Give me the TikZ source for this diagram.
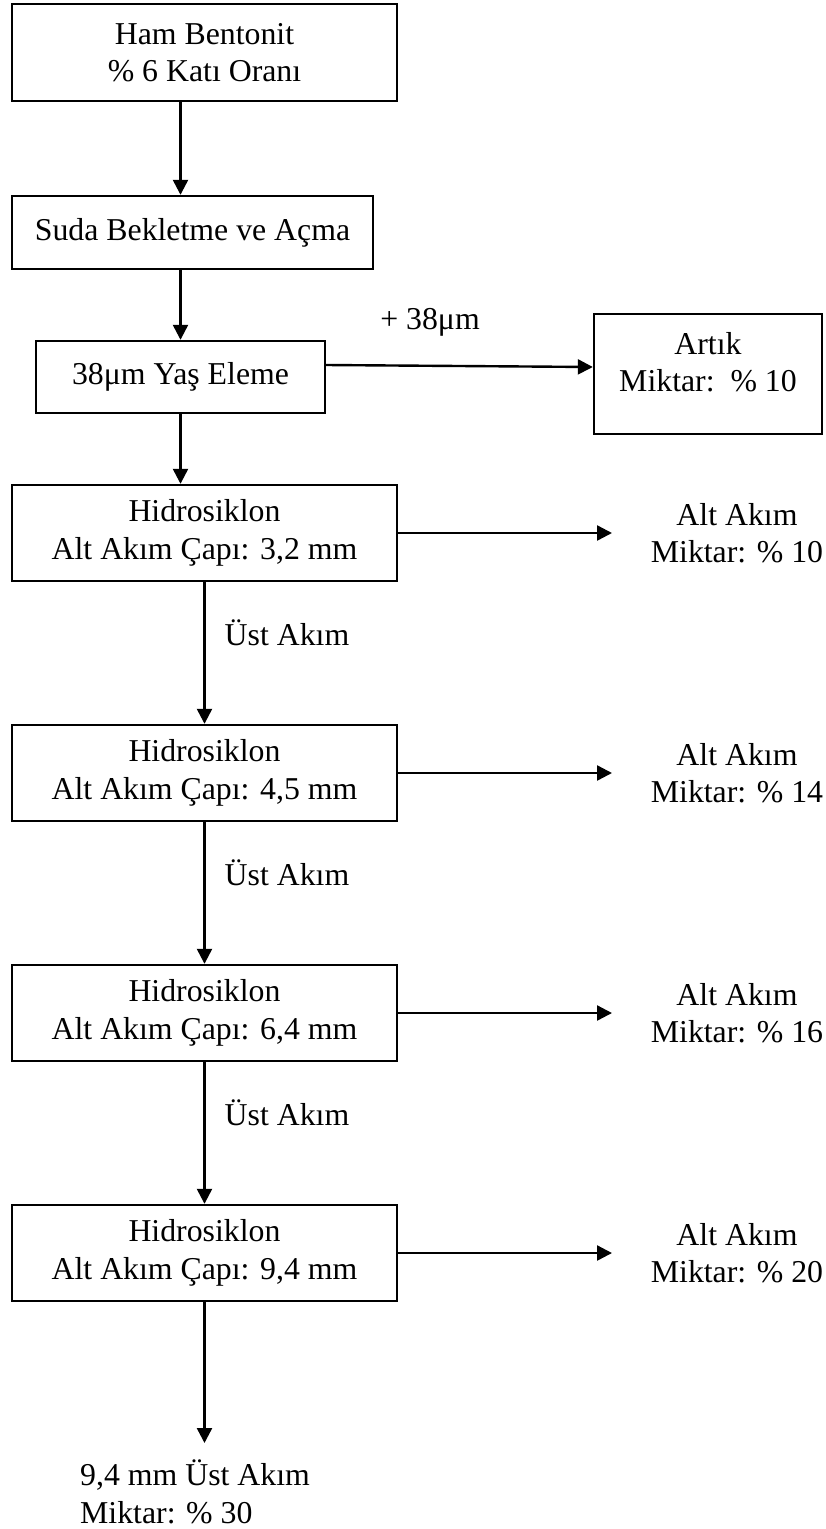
\documentclass[tikz,border=0pt]{standalone}
\usepackage{fontspec}
\setmainfont{Liberation Serif}
\usetikzlibrary{arrows.meta}
\begin{document}
\begin{tikzpicture}[x=1pt,y=-1pt,
  box/.style={draw, line width=2.4pt, align=center, inner sep=0pt},
  lbl/.style={align=center, inner sep=0pt},
  arr/.style={-{Triangle[length=15pt,width=15pt]}, line width=2.4pt},
  font=\fontsize{31.8}{37.5}\selectfont]
\useasboundingbox (0,0) rectangle (825,1529);

\node[box, minimum width=385pt, minimum height=97pt] (B1) at (204.5,52.5) {Ham Bentonit\\\% 6 Katı Oranı};
\node[box, minimum width=361pt, minimum height=73pt] (B2) at (192.5,232.5) {Suda Bekletme ve Açma};
\node[box, minimum width=289pt, minimum height=72pt] (B3) at (180.5,377) {38μm Yaş Eleme};
\node[box, minimum width=228pt, minimum height=120pt] (AR) at (708,374) {};
\node[lbl] (ART) at (708,362) {Artık\\Miktar:\ \ \% 10};
\node[lbl] (P38) at (430,322) {+ 38μm};

\node[box, minimum width=385pt, minimum height=96pt] (H1) at (204.5,533) {Hidrosiklon\\Alt Akım Çapı: 3,2 mm};
\node[box, minimum width=385pt, minimum height=96pt] (H2) at (204.5,773) {Hidrosiklon\\Alt Akım Çapı: 4,5 mm};
\node[box, minimum width=385pt, minimum height=96pt] (H3) at (204.5,1013) {Hidrosiklon\\Alt Akım Çapı: 6,4 mm};
\node[box, minimum width=385pt, minimum height=96pt] (H4) at (204.5,1253) {Hidrosiklon\\Alt Akım Çapı: 9,4 mm};

\node[lbl] (L1) at (737,533) {Alt Akım\\Miktar: \% 10};
\node[lbl] (L2) at (737,773) {Alt Akım\\Miktar: \% 14};
\node[lbl] (L3) at (737,1013) {Alt Akım\\Miktar: \% 16};
\node[lbl] (L4) at (737,1253) {Alt Akım\\Miktar: \% 20};

\node[lbl] (U1) at (287,633) {Üst Akım};
\node[lbl] (U2) at (287,873) {Üst Akım};
\node[lbl] (U3) at (287,1113) {Üst Akım};

\node[lbl, anchor=west, align=left] (FIN) at (80,1492) {9,4 mm Üst Akım\\Miktar: \% 30};

\coordinate (T1) at (612,533);
\coordinate (T2) at (612,773);
\coordinate (T3) at (612,1013);
\coordinate (T4) at (612,1253);
\coordinate (E) at (204.5,1443);

\draw[arr] (B1.south -| B3.center) -- (B2.north -| B3.center);
\draw[arr] (B2.south -| B3.center) -- (B3.north);
\draw[arr] (B3.south) -- (H1.north -| B3.center);
\draw[arr] ([yshift=12pt]B3.east) -- ([yshift=7pt]AR.west);

\draw[arr] (H1.south) -- (H2.north);
\draw[arr] (H2.south) -- (H3.north);
\draw[arr] (H3.south) -- (H4.north);
\draw[arr] (H4.south) -- (E);

\draw[arr] (H1.east) -- (T1);
\draw[arr] (H2.east) -- (T2);
\draw[arr] (H3.east) -- (T3);
\draw[arr] (H4.east) -- (T4);
\end{tikzpicture}
\end{document}
